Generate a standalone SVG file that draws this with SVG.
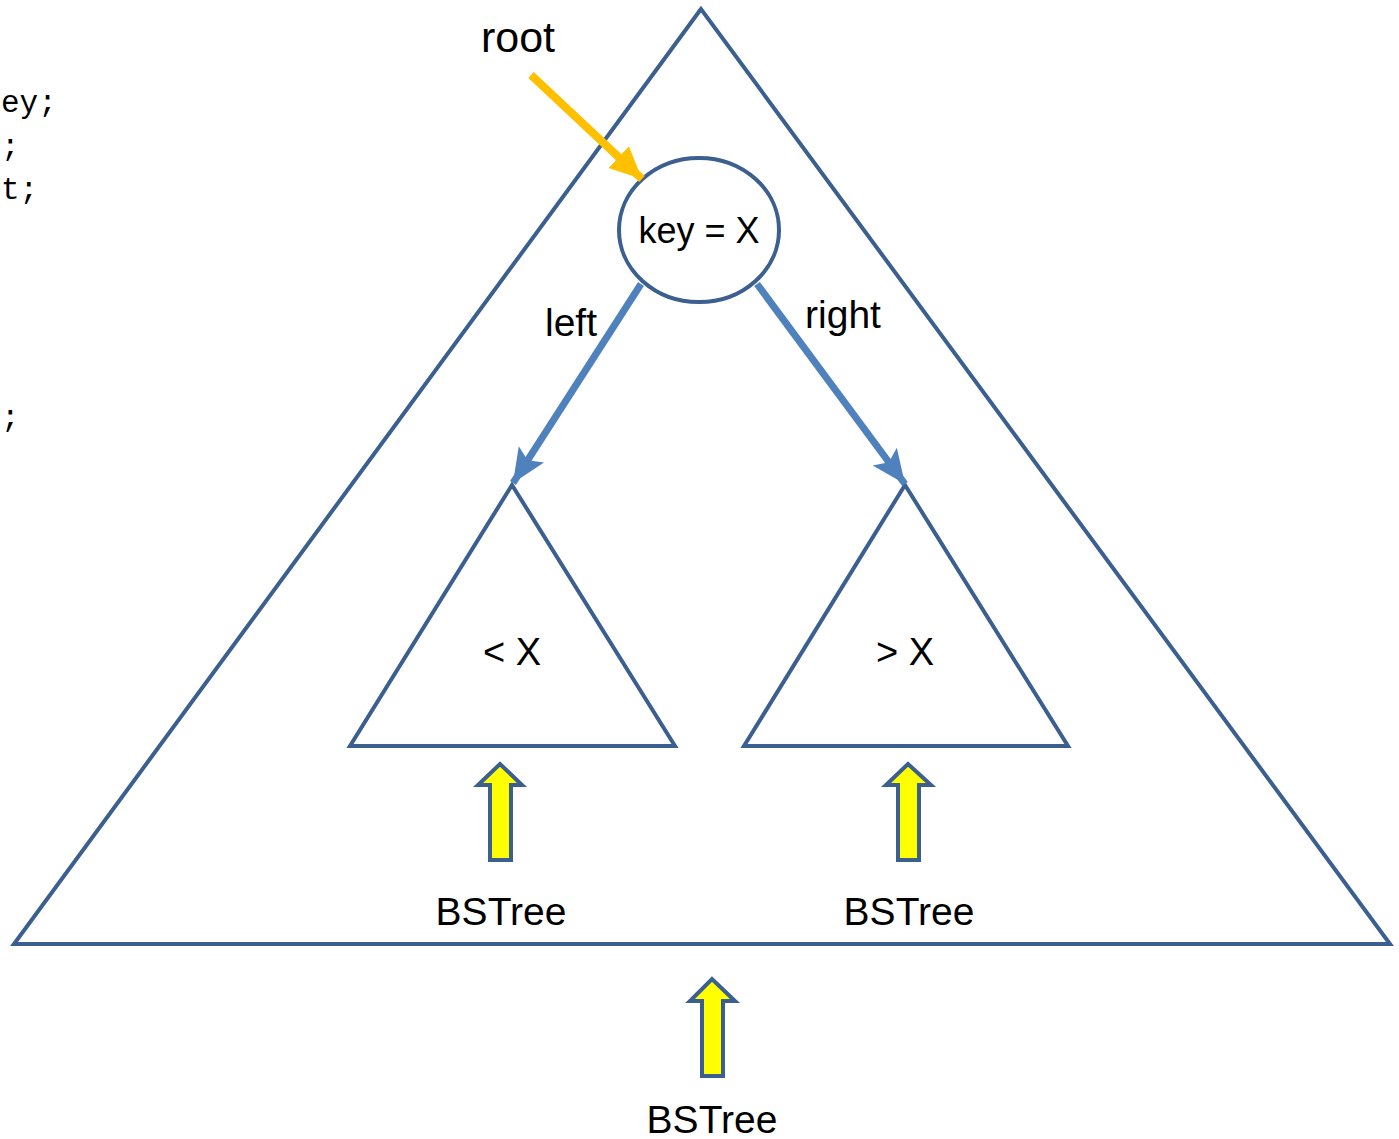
<svg xmlns="http://www.w3.org/2000/svg" width="1399" height="1139" viewBox="0 0 1399 1139">
<style>
.tri{fill:none;stroke:#3B5F8F;stroke-width:4;stroke-linejoin:miter}
.lbl{font-family:"Liberation Sans",Arial,sans-serif;fill:#000}
.code{font-family:"Liberation Mono","Courier New",monospace;font-size:31px;fill:#000}
.blk{fill:#FFFF00;stroke:#3B5F8F;stroke-width:4}
.blue{stroke:#4F81BD;stroke-width:7;fill:none}
</style>
<defs>
<marker id="ab" markerUnits="userSpaceOnUse" markerWidth="36" markerHeight="32" refX="34" refY="15" orient="auto" viewBox="0 0 36 30">
<path d="M0,0 L34,15 L0,30 L7,15 Z" fill="#4F81BD"/>
</marker>
<marker id="ao" markerUnits="userSpaceOnUse" markerWidth="34" markerHeight="32" refX="32" refY="15" orient="auto" viewBox="0 0 34 30">
<path d="M0,0 L32,15 L0,30 Z" fill="#FFC000"/>
</marker>
</defs>
<g id="code">
<text class="code" x="1" y="112">ey;</text>
<text class="code" x="1" y="156">;</text>
<text class="code" x="1" y="199">t;</text>
<text class="code" x="1" y="427">;</text>
</g>
<g id="outer"><polygon class="tri" points="701,9 14,944 1390,944"/></g>
<g id="leftsub"><polygon class="tri" points="512,485 350,746 675,746"/><text class="lbl" x="512" y="665" text-anchor="middle" font-size="38">&lt; X</text></g>
<g id="rightsub"><polygon class="tri" points="905,485 744,746 1068,746"/><text class="lbl" x="905" y="665" text-anchor="middle" font-size="38">&gt; X</text></g>
<g id="node"><ellipse cx="699" cy="230" rx="80" ry="72" fill="#fff" stroke="#3B5F8F" stroke-width="4"/><text class="lbl" x="699" y="243" text-anchor="middle" font-size="36">key = X</text></g>
<g id="labels">
<text class="lbl" x="518" y="52" text-anchor="middle" font-size="43">root</text>
<text class="lbl" x="571" y="336" text-anchor="middle" font-size="39">left</text>
<text class="lbl" x="843" y="328" text-anchor="middle" font-size="39">right</text>
<text class="lbl" x="501" y="925" text-anchor="middle" font-size="39">BSTree</text>
<text class="lbl" x="909" y="925" text-anchor="middle" font-size="39">BSTree</text>
<text class="lbl" x="712" y="1133" text-anchor="middle" font-size="39">BSTree</text>
</g>
<g id="connectors">
<line x1="531" y1="75" x2="642" y2="179" stroke="#FFC000" stroke-width="8" marker-end="url(#ao)"/>
<line class="blue" x1="641" y1="284" x2="513" y2="483" marker-end="url(#ab)"/>
<line class="blue" x1="757" y1="284" x2="905" y2="484" marker-end="url(#ab)"/>
</g>
<g id="arrowL"><polygon class="blk" points="490,860 511,860 511,785 522,785 500,764 478,785 490,785"/></g>
<g id="arrowR"><polygon class="blk" points="898,860 919,860 919,785 931,785 908,764 886,785 898,785"/></g>
<g id="arrowB"><polygon class="blk" points="702,1076 723,1076 723,1001 735,1001 712,979 690,1001 702,1001"/></g>
</svg>
